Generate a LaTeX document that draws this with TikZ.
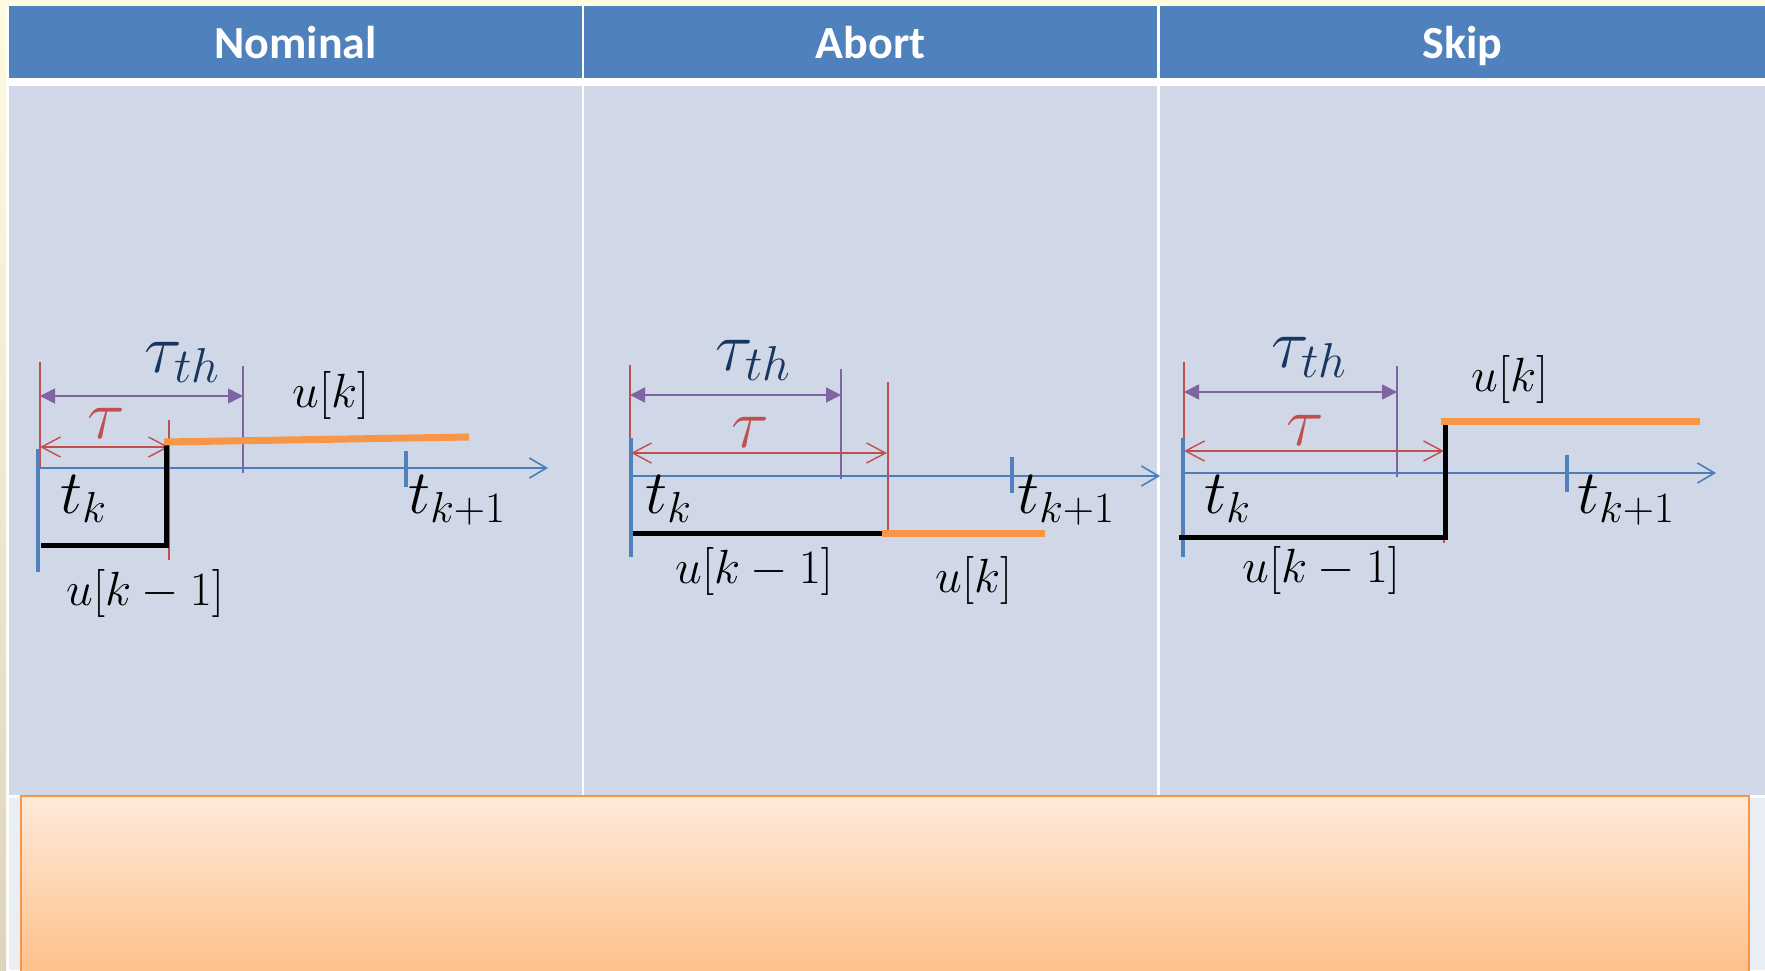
\RequirePackage{fix-cm}
\documentclass[tikz,border=0pt]{standalone}
\usepackage{fontspec}
\newfontfamily\headfont{Carlito}
\usepackage{tikz}
\usetikzlibrary{arrows.meta}

\definecolor{hdrblue}{HTML}{4F81BD}
\definecolor{cellblue}{HTML}{D0D8E8}
\definecolor{rowgrey}{HTML}{E9EDF4}
\definecolor{creamA}{HTML}{FFFBE3}
\definecolor{creamB}{HTML}{DCD5BB}
\definecolor{axisblue}{HTML}{4A7EBB}
\definecolor{taured}{HTML}{C0504D}
\definecolor{thpurple}{HTML}{8064A2}
\definecolor{thnavy}{HTML}{17375E}
\definecolor{uorange}{HTML}{F79646}
\definecolor{boxtop}{HTML}{FFEADA}
\definecolor{boxbot}{HTML}{FFBD85}

\begin{document}
\begin{tikzpicture}[x=0.5pt, y=-0.5pt,
    axisline/.style={axisblue, line width=0.8pt, -{Straight Barb[length=8.5pt, width=10pt]}},
    tickmark/.style={hdrblue, line width=2pt},
    taumark/.style={taured, line width=0.7pt},
    thmark/.style={thpurple, line width=0.7pt},
    tharrow/.style={thpurple, line width=0.8pt,
        {Triangle[length=7.5pt, width=7.5pt]}-{Triangle[length=7.5pt, width=7.5pt]}},
    tauarrow/.style={taured, line width=0.7pt,
        {Straight Barb[length=9.5pt, width=10pt]}-{Straight Barb[length=9.5pt, width=10pt]}},
    uold/.style={black, line width=2.5pt},
    unew/.style={uorange, line width=3.5pt},
    hdr/.style={text=white, font=\headfont\bfseries\fontsize{23}{28}\selectfont, inner sep=0pt, anchor=base},
    ulbl/.style={font=\fontsize{24}{29}\selectfont, inner sep=0pt, anchor=base west},
    tlbl/.style={font=\fontsize{31}{37}\selectfont, inner sep=0pt, anchor=base west},
    taulbl/.style={font=\fontsize{35}{42}\selectfont, inner sep=0pt, anchor=base west}]

    \useasboundingbox (0,0) rectangle (1765,970);

    % table background
    \fill[white] (0,0) rectangle (1765,970);
    \fill[creamA] (0,0) rectangle (1765,6);
    \shade[top color=creamA, bottom color=creamB] (0,0) rectangle (6,970);

    \fill[hdrblue] (9,6) rectangle (582,78);
    \fill[hdrblue] (584,6) rectangle (1157,78);
    \fill[hdrblue] (1160,6) rectangle (1765,78);

    \fill[cellblue] (9,86) rectangle (582,795);
    \fill[cellblue] (584,86) rectangle (1157,795);
    \fill[cellblue] (1160,86) rectangle (1765,795);

    \fill[rowgrey] (9,798) rectangle (1765,970);
    \shade[draw=uorange, line width=1.2pt, top color=boxtop, bottom color=boxbot]
        (21,796) rectangle (1749,985);

    \node[hdr] (hNom) at (295.5,58) {Nominal};
    \node[hdr] (hAbo) at (870.5,58) {Abort};
    \node[hdr] (hSki) at (1462.5,58) {Skip};

    % Nominal
    \coordinate (N-tk)   at (38,468);
    \coordinate (N-end)  at (548,468);
    \coordinate (N-th0)  at (40,396);
    \coordinate (N-th1)  at (243,396);
    \coordinate (N-tau0) at (40,447);
    \coordinate (N-tau1) at (169,447);

    \draw[taumark] (40,362) -- (40,468);
    \draw[thmark] (243,366) -- (243,473);
    \draw[taumark] (169,420) -- (169,560);
    \draw[axisline] (N-tk) -- (N-end);
    \draw[tickmark] (38,449) -- (38,572);
    \draw[tickmark, line width=1.8pt] (406,451) -- (406,487);
    \draw[tharrow] (N-th0) -- (N-th1);
    \draw[tauarrow] (N-tau0) -- (N-tau1);
    \draw[uold] (41,545) -- (166,545) -- (166,443);
    \draw[unew] (164,442) -- (469,437);

    \node[taulbl, text=thnavy] (N-lth) at (144,372) {$\tau_{th}$};
    \node[taulbl, text=taured] (N-ltau) at (87,438) {$\tau$};
    \node[tlbl] (N-ltk) at (60,513) {$t_k$};
    \node[tlbl] (N-ltk1) at (408,513) {$t_{k+1}$};
    \node[ulbl] (N-luk) at (292,407) {$u[k]$};
    \node[ulbl] (N-luk1) at (66,605) {$u[k-1]$};

    % Abort
    \coordinate (A-tk)   at (631,476);
    \coordinate (A-end)  at (1160,476);
    \coordinate (A-th0)  at (630,395);
    \coordinate (A-th1)  at (841,395);
    \coordinate (A-tau0) at (631,453);
    \coordinate (A-tau1) at (887,453);

    \draw[taumark] (630,365) -- (630,476);
    \draw[thmark] (841,369) -- (841,479);
    \draw[taumark] (888,382) -- (888,532);
    \draw[axisline] (A-tk) -- (A-end);
    \draw[tickmark] (631,438) -- (631,557);
    \draw[tickmark, line width=1.8pt] (1012,457) -- (1012,493);
    \draw[tharrow] (A-th0) -- (A-th1);
    \draw[tauarrow] (A-tau0) -- (A-tau1);
    \draw[uold] (633,533) -- (882,533);
    \draw[unew] (882,533) -- (1045,533);

    \node[taulbl, text=thnavy] (A-lth) at (715,370) {$\tau_{th}$};
    \node[taulbl, text=taured] (A-ltau) at (731,447) {$\tau$};
    \node[tlbl] (A-ltk) at (645,513) {$t_k$};
    \node[tlbl] (A-ltk1) at (1017,513) {$t_{k+1}$};
    \node[ulbl] (A-luk1) at (675,583) {$u[k-1]$};
    \node[ulbl] (A-luk) at (935,592) {$u[k]$};

    % Skip
    \coordinate (S-tk)   at (1183,473);
    \coordinate (S-end)  at (1716,473);
    \coordinate (S-th0)  at (1184,392);
    \coordinate (S-th1)  at (1397,392);
    \coordinate (S-tau0) at (1184,451);
    \coordinate (S-tau1) at (1444,451);

    \draw[taumark] (1184,362) -- (1184,473);
    \draw[thmark] (1397,366) -- (1397,477);
    \draw[taumark] (1444,451) -- (1444,543);
    \draw[axisline] (S-tk) -- (S-end);
    \draw[tickmark] (1183,438) -- (1183,557);
    \draw[tickmark, line width=1.8pt] (1567,455) -- (1567,492);
    \draw[tharrow] (S-th0) -- (S-th1);
    \draw[tauarrow] (S-tau0) -- (S-tau1);
    \draw[uold] (1179,537) -- (1445,537) -- (1445,423);
    \draw[unew] (1441,421) -- (1700,421);

    \node[taulbl, text=thnavy] (S-lth) at (1271,367) {$\tau_{th}$};
    \node[taulbl, text=taured] (S-ltau) at (1286,445) {$\tau$};
    \node[tlbl] (S-ltk) at (1204,513) {$t_k$};
    \node[tlbl] (S-ltk1) at (1577,513) {$t_{k+1}$};
    \node[ulbl] (S-luk1) at (1242,582) {$u[k-1]$};
    \node[ulbl] (S-luk) at (1471,391) {$u[k]$};

\end{tikzpicture}
\end{document}
